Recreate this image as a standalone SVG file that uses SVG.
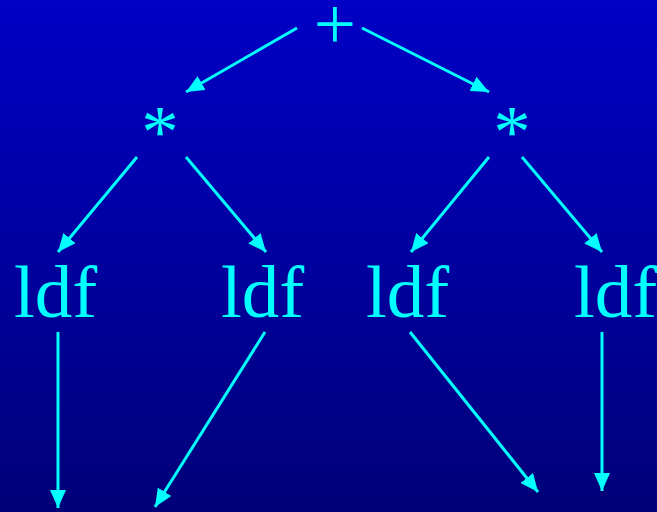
<svg xmlns="http://www.w3.org/2000/svg" width="657" height="512" viewBox="0 0 657 512">
<defs>
<linearGradient id="bg" x1="0" y1="0" x2="0" y2="1">
<stop offset="0" stop-color="#0000C6"/>
<stop offset="1" stop-color="#000078"/>
</linearGradient>
<marker id="ah" viewBox="0 0 18 16" refX="18" refY="8" markerWidth="18" markerHeight="16" markerUnits="userSpaceOnUse" orient="auto">
<path d="M0,0 L18,8 L0,16 z" fill="#00FFFF"/>
</marker>
<style>
.t{font-family:"Liberation Serif","Times New Roman",serif;font-size:75px;fill:#00FFFF}
.c{stroke:#00FFFF;stroke-width:3;fill:none;marker-end:url(#ah)}
</style>
</defs>
<rect width="657" height="512" fill="url(#bg)"/>
<g id="plus"><text class="t" x="335" y="49" text-anchor="middle">+</text></g>
<g id="star1"><text class="t" x="160" y="157" text-anchor="middle">*</text></g>
<g id="star2"><text class="t" x="512" y="157" text-anchor="middle">*</text></g>
<g id="ldf1"><text class="t" x="14" y="317">ldf</text></g>
<g id="ldf2"><text class="t" x="221" y="317">ldf</text></g>
<g id="ldf3"><text class="t" x="366" y="317">ldf</text></g>
<g id="ldf4"><text class="t" x="574" y="317">ldf</text></g>
<g id="connectors">
<path class="c" d="M297,28 L186,92"/>
<path class="c" d="M362,28 L489,92"/>
<path class="c" d="M137,157 L58,252"/>
<path class="c" d="M186,157 L266,252"/>
<path class="c" d="M489,157 L411,252"/>
<path class="c" d="M522,157 L602,252"/>
<path class="c" d="M58,332 L58,508"/>
<path class="c" d="M265,332 L155,507"/>
<path class="c" d="M410,332 L538,492"/>
<path class="c" d="M602,332 L602,491"/>
</g>
</svg>
